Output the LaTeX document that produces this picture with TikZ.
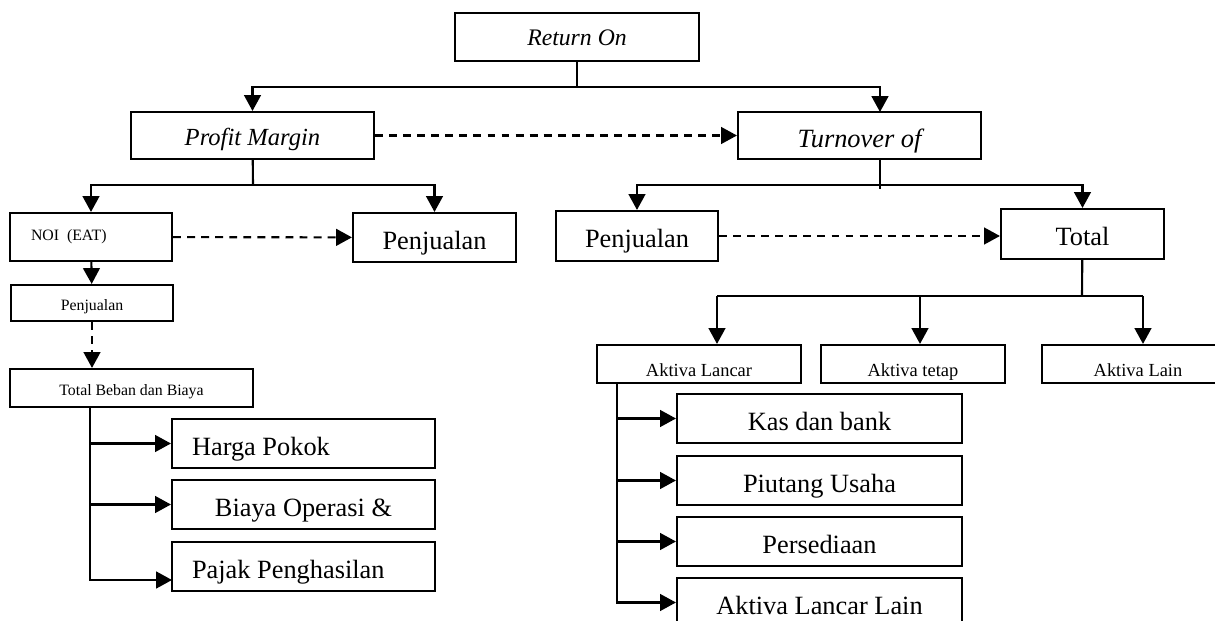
\documentclass[tikz,border=0pt]{standalone}
\usepackage{fontspec}
\setmainfont{Liberation Serif}
\usetikzlibrary{arrows.meta}
\tikzset{
  box/.style 2 args={draw,inner sep=0pt,minimum width=#1*0.02cm,minimum height=#2*0.02cm},
  big/.style={font=\fontsize{15}{18}\selectfont,text height=13.5pt,text depth=0pt},
  mid/.style={font=\fontsize{10.5}{12}\selectfont,text height=14pt,text depth=0pt},
  small/.style={font=\fontsize{9}{11}\selectfont},
  arr/.style={-{Triangle[length=9pt,width=9.5pt]}},
  dsh/.style={dash pattern=on 4.5pt off 3.5pt},
}
\begin{document}
\begin{tikzpicture}[x=0.02cm,y=-0.02cm,line width=1.2pt]
  \useasboundingbox (0,0) rectangle (1215,621);
  \node[box={244}{48},font=\fontsize{13.5}{16}\selectfont\itshape,text height=10pt,text depth=0pt] (v1) at (577,37) {Return On};
  \node[box={243}{47},font=\fontsize{14}{17}\selectfont\itshape,text height=11pt,text depth=0pt] (v2) at (252.5,135.5) {Profit Margin};
  \node[box={243}{47},font=\fontsize{15}{18}\selectfont\itshape,text height=14pt,text depth=0pt] (v3) at (859.5,135.5) {Turnover of};
  \node[box={162}{48},small] (v4) at (91,237) {\makebox[2.4cm][l]{NOI~ (EAT)}};
  \node[box={163}{49},big] (v5) at (434.5,237.5) {Penjualan};
  \node[box={162}{36},small,text height=8pt,text depth=0pt] (v6) at (92,303) {Penjualan};
  \node[box={243}{38},small,text height=8pt,text depth=0pt] (v7) at (131.5,388) {Total Beban dan Biaya};
  \node[box={263}{49},big] (v8) at (303.5,443.5) {\makebox[4.46cm][l]{Harga Pokok}};
  \node[box={263}{49},big] (v9) at (303.5,504.5) {Biaya Operasi \&};
  \node[box={263}{49},big] (v10) at (303.5,566.5) {\makebox[4.46cm][l]{Pajak Penghasilan}};
  \node[box={162}{50},big] (v11) at (637,236) {Penjualan};
  \node[box={163}{50},big] (v12) at (1082.5,234) {Total};
  \node[box={204}{38},mid] (v13) at (699,364) {Aktiva Lancar};
  \node[box={184}{38},mid] (v14) at (913,364) {Aktiva tetap};
  \node[box={192}{38},mid] (v15) at (1138,364) {Aktiva Lain};
  \node[box={285}{49},big] (v16) at (819.5,418.5) {Kas dan bank};
  \node[box={285}{49},big] (v17) at (819.5,480.5) {Piutang Usaha};
  \node[box={285}{49},big] (v18) at (819.5,541.5) {Persediaan};
  \node[box={285}{49},big] (v19) at (819.5,602.5) {Aktiva Lancar Lain};
  \coordinate (c1) at (577,87);
  \coordinate (c2) at (253,185);
  \coordinate (c3) at (880,185);
  \coordinate (c4) at (880,189);
  \coordinate (c5) at (1082,296);
  \coordinate (c6) at (717,296);
  \coordinate (c7) at (920,296);
  \coordinate (c8) at (1143,296);
  \coordinate (c9) at (90,407);
  \coordinate (c10) at (172,580);
  \coordinate (c11) at (617,383);
  \coordinate (c12) at (880,112);
  \draw (v1) -- (c1);
  \draw[arr] (c1) -| (v2);
  \draw[arr] (c1) -| (c12);
  \draw[arr,dsh] (v2) -- (v3);
  \draw (v2) -- (c2);
  \draw[arr] (c2) -| (v4);
  \draw[arr] (c2) -| (v5);
  \draw[arr,dsh] (v4) -- (v5);
  \draw[arr] (v4) -- (v6);
  \draw[arr,dsh] (v6) -- (v6 |- v7.north);
  \draw[arr] (c9) |- (v8);
  \draw[arr] (c9) |- (v9);
  \draw[arr] (c9) |- (c10);
  \draw (c3 |- v3.south) -- (c4);
  \draw[arr] (c3) -| (v11);
  \draw[arr] (c3) -| (v12);
  \draw[arr,dsh] (v11) -- (v11 -| v12.west);
  \draw (v12) -- (c5);
  \draw (c6) -- (c8);
  \draw[arr] (c6) -- (c6 |- v13.north);
  \draw[arr] (c7) -- (c7 |- v14.north);
  \draw[arr] (c8) -- (c8 |- v15.north);
  \draw[arr] (c11) |- (v16);
  \draw[arr] (c11) |- (v17);
  \draw[arr] (c11) |- (v18);
  \draw[arr] (c11) |- (v19);
\end{tikzpicture}
\end{document}
